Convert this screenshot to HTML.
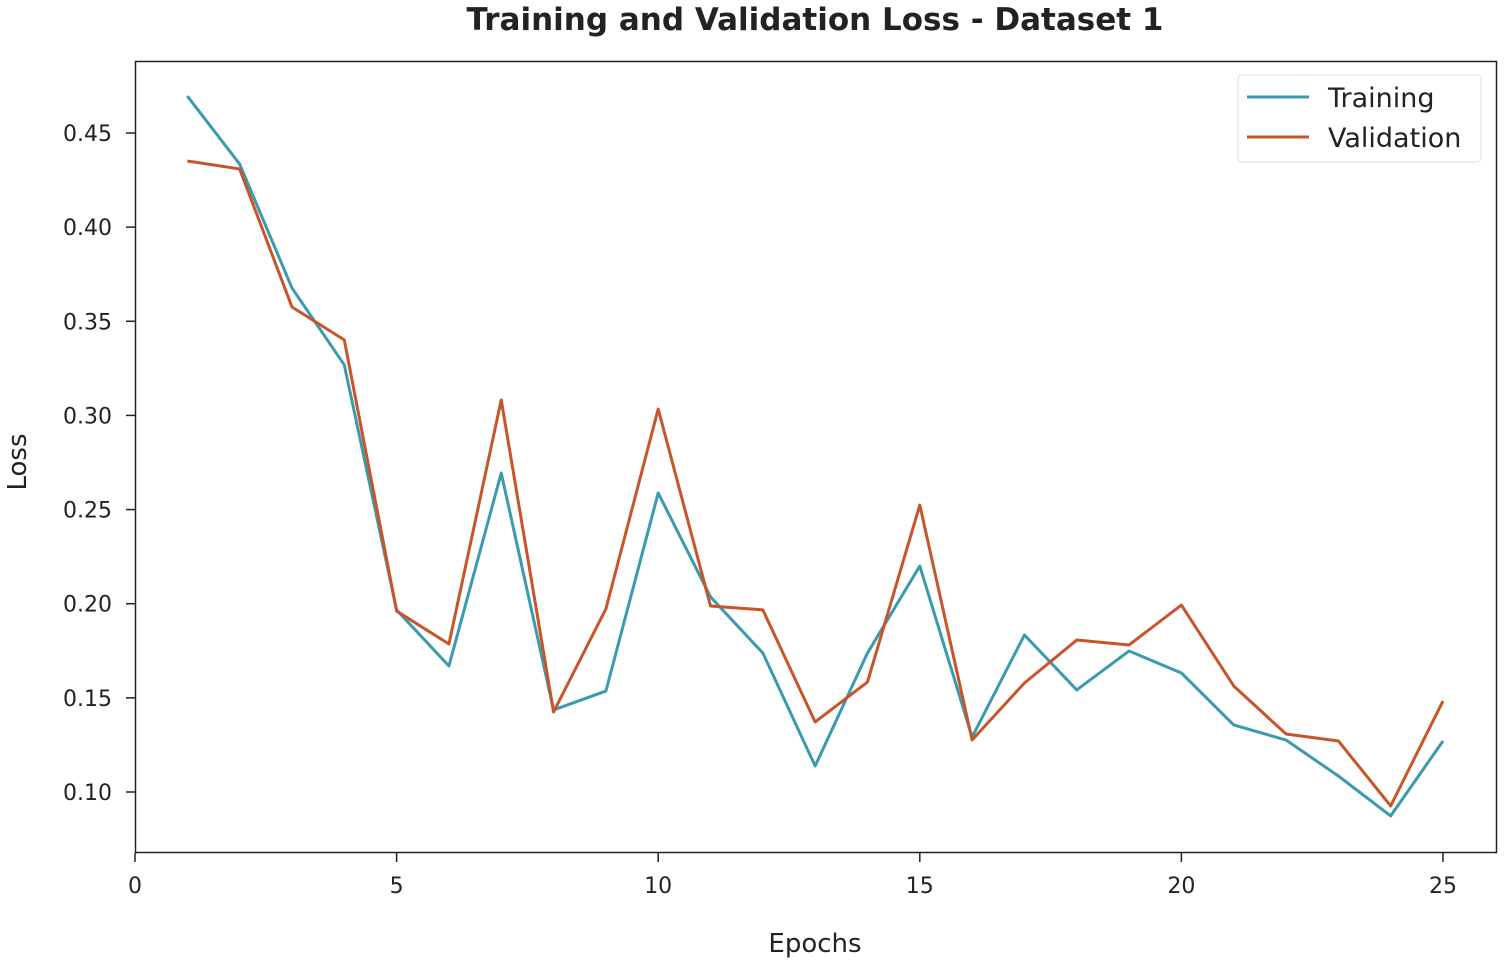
<!DOCTYPE html>
<html><head><meta charset="utf-8"><style>
html,body{margin:0;padding:0;background:#fff;}
svg{display:block;font-family:"DejaVu Sans","Liberation Sans",sans-serif;}
</style></head><body>
<svg id="chart" width="1504" height="962" viewBox="0 0 1504 962" xmlns="http://www.w3.org/2000/svg">
<text x="815" y="30" text-anchor="middle" font-size="31" font-weight="bold" fill="#222">Training and Validation Loss - Dataset 1</text>
<rect x="135.5" y="61.5" width="1361" height="791" fill="none" stroke="#222" stroke-width="1.5"/>
<g id="xticks"></g>
<g id="yticks"></g>
<text x="815" y="952" text-anchor="middle" font-size="26" fill="#222">Epochs</text>
<text transform="translate(26,462) rotate(-90)" text-anchor="middle" font-size="26" fill="#222">Loss</text>
<g id="series"></g>
<g>
<rect x="1238" y="75" width="243" height="87" rx="4" fill="#fff" stroke="#ddd" stroke-width="1"/>
<line x1="1247" y1="97" x2="1309" y2="97" stroke="#3a9aae" stroke-width="3"/>
<text x="1328" y="107" font-size="27" fill="#222">Training</text>
<line x1="1247" y1="137" x2="1309" y2="137" stroke="#c8552a" stroke-width="3"/>
<text x="1328" y="147" font-size="27" fill="#222">Validation</text>
</g>
</svg>
<script>
const epochs=[1,2,3,4,5,6,7,8,9,10,11,12,13,14,15,16,17,18,19,20,21,22,23,24,25];
const trainingLoss=[0.4696,0.4335,0.3677,0.3268,0.1967,0.1669,0.2694,0.1436,0.1536,0.2588,0.2036,0.1738,0.1138,0.1738,0.2200,0.1292,0.1834,0.1542,0.1749,0.1632,0.1356,0.1276,0.1085,0.0873,0.1271];
const validationLoss=[0.4351,0.4309,0.3576,0.3401,0.1961,0.1786,0.3082,0.1425,0.1972,0.3034,0.1988,0.1967,0.1372,0.1584,0.2524,0.1276,0.1579,0.1807,0.1781,0.1993,0.1563,0.1308,0.1271,0.0926,0.1483];
const xTickValues=[0,5,10,15,20,25];
const yTickValues=[0.10,0.15,0.20,0.25,0.30,0.35,0.40,0.45];
const NS="http://www.w3.org/2000/svg";
function xs(v){return 135+v*52.32;}
function ys(v){return 792-(v-0.1)*1882.9;}
const xg=document.getElementById('xticks'),yg=document.getElementById('yticks'),sg=document.getElementById('series');
xTickValues.forEach(v=>{
 const l=document.createElementNS(NS,'line');
 
 
 l.setAttribute('x1',xs(v));l.setAttribute('x2',xs(v));l.setAttribute('y1',853);l.setAttribute('y2',862);
 l.setAttribute('stroke','#222');l.setAttribute('stroke-width','1.5');xg.appendChild(l);
 const t=document.createElementNS(NS,'text');
 
 
 t.setAttribute('x',xs(v));t.setAttribute('y',893);t.setAttribute('text-anchor','middle');
 t.setAttribute('font-size','22');t.setAttribute('fill','#222');t.textContent=v;xg.appendChild(t);
});
yTickValues.forEach(v=>{
 const l=document.createElementNS(NS,'line');
 
 
 l.setAttribute('x1',126);l.setAttribute('x2',135);l.setAttribute('y1',ys(v));l.setAttribute('y2',ys(v));
 l.setAttribute('stroke','#222');l.setAttribute('stroke-width','1.5');yg.appendChild(l);
 const t=document.createElementNS(NS,'text');
 
 
 t.setAttribute('x',112);t.setAttribute('y',ys(v)+8);t.setAttribute('text-anchor','end');
 t.setAttribute('font-size','22');t.setAttribute('fill','#222');t.textContent=v.toFixed(2);yg.appendChild(t);
});
function drawLine(vals,color,name){
 const p=document.createElementNS(NS,'polyline');
 
 
 p.setAttribute('points',vals.map((v,i)=>xs(epochs[i])+','+ys(v)).join(' '));
 p.setAttribute('fill','none');p.setAttribute('stroke',color);p.setAttribute('stroke-width','3');
 p.setAttribute('stroke-linejoin','round');
 sg.appendChild(p);
}
drawLine(trainingLoss,'#3a9aae','training-line');
drawLine(validationLoss,'#c8552a','validation-line');
</script>
</body></html>
